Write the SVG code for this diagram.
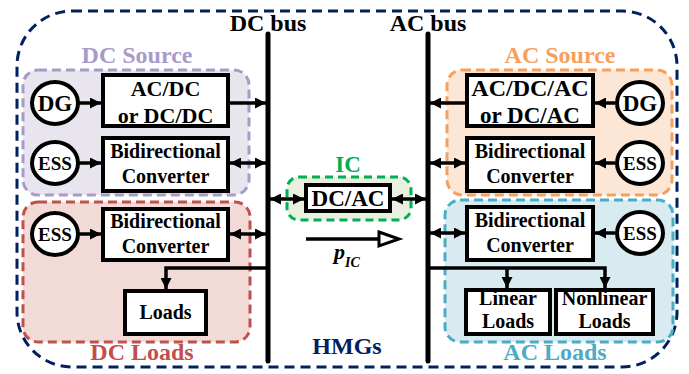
<svg xmlns="http://www.w3.org/2000/svg" width="689" height="374" viewBox="0 0 689 374">
<style>
text{font-family:"Liberation Serif","Times New Roman",serif;font-weight:bold;text-anchor:middle;fill:#000}
.box{fill:#fff;stroke:#000;stroke-width:4}
.circ{fill:#fff;stroke:#000;stroke-width:4}
.grp{stroke-width:3;stroke-dasharray:9 5}
.bus{stroke:#000;stroke-width:5;stroke-linecap:round;fill:none}
.c{stroke:#000;stroke-width:3.5;fill:none}
.t22{font-size:22px}
.t20{font-size:20px}
.t23{font-size:23px}
.t24{font-size:24px}
</style>
<defs>
<marker id="ah" viewBox="0 0 10 10" refX="10" refY="5" markerWidth="11" markerHeight="11" markerUnits="userSpaceOnUse" orient="auto-start-reverse">
<path d="M0,0 L10,5 L0,10 z" fill="#000"/>
</marker>
</defs>

<g id="hmgs">
<rect x="17" y="11" width="660" height="356" rx="55" fill="#fff" stroke="#002060" stroke-width="3" stroke-dasharray="10 6"/>
<text class="t24" x="347" y="354" style="fill:#002060">HMGs</text>
</g>

<g id="dc-source">
<rect class="grp" x="23" y="70" width="226" height="125" rx="15" fill="#E9E5EF" stroke="#A89BC8"/>
<text class="t24" x="137" y="63" style="fill:#A89BC8">DC Source</text>
</g>
<g id="dc-loads">
<rect class="grp" x="23" y="202" width="227" height="140" rx="15" fill="#F2DAD6" stroke="#C0504D"/>
<text class="t24" x="142" y="360" style="fill:#C0504D">DC Loads</text>
</g>
<g id="ac-source">
<rect class="grp" x="447" y="70" width="225" height="125" rx="15" fill="#FCE6D6" stroke="#F7A05C"/>
<text class="t24" x="560" y="63" style="fill:#F7A05C">AC Source</text>
</g>
<g id="ac-loads">
<rect class="grp" x="445" y="200" width="228" height="142" rx="15" fill="#D8EBF1" stroke="#4BACC6"/>
<text class="t24" x="555" y="360" style="fill:#4BACC6">AC Loads</text>
</g>
<g id="ic">
<rect x="287" y="177" width="124" height="43" rx="12" fill="#EAF0E0" stroke="#00B050" stroke-width="3" stroke-dasharray="8 5"/>
<text class="t23" x="348" y="172" style="fill:#00B050">IC</text>
</g>

<g id="dc-bus">
<line class="bus" x1="268" y1="34" x2="268" y2="361"/>
<text class="t24" x="268" y="31">DC bus</text>
</g>
<g id="ac-bus">
<line class="bus" x1="428" y1="34" x2="428" y2="361"/>
<text class="t24" x="428" y="31">AC bus</text>
</g>

<g id="connectors">
<line class="c" x1="79" y1="103" x2="101" y2="103" marker-end="url(#ah)"/>
<line class="c" x1="230" y1="103" x2="266" y2="103" marker-end="url(#ah)"/>
<line class="c" x1="79" y1="163" x2="101" y2="163" marker-end="url(#ah)"/>
<line class="c" x1="230" y1="163" x2="266" y2="163" marker-start="url(#ah)" marker-end="url(#ah)"/>
<line class="c" x1="79" y1="234" x2="101" y2="234" marker-end="url(#ah)"/>
<line class="c" x1="230" y1="234" x2="266" y2="234" marker-start="url(#ah)" marker-end="url(#ah)"/>
<path class="c" d="M268,268 H166 V289" marker-end="url(#ah)"/>
<line class="c" x1="270" y1="199" x2="304" y2="199" marker-start="url(#ah)" marker-end="url(#ah)"/>
<line class="c" x1="392" y1="199" x2="426" y2="199" marker-start="url(#ah)" marker-end="url(#ah)"/>
<line class="c" x1="465" y1="103" x2="430" y2="103" marker-end="url(#ah)"/>
<line class="c" x1="615" y1="103" x2="595" y2="103" marker-end="url(#ah)"/>
<line class="c" x1="430" y1="163" x2="465" y2="163" marker-start="url(#ah)" marker-end="url(#ah)"/>
<line class="c" x1="615" y1="163" x2="595" y2="163" marker-end="url(#ah)"/>
<line class="c" x1="430" y1="233" x2="465" y2="233" marker-start="url(#ah)" marker-end="url(#ah)"/>
<line class="c" x1="615" y1="233" x2="595" y2="233" marker-end="url(#ah)"/>
<path class="c" d="M428,268 H605 V288" marker-end="url(#ah)"/>
<path class="c" d="M507,268 V288" marker-end="url(#ah)"/>
<line class="c" x1="306" y1="239" x2="380" y2="239"/>
<polygon points="379,232 399,239 379,246" fill="#fff" stroke="#000" stroke-width="3" stroke-linejoin="miter"/>
<text x="347" y="259" style="font-size:22px;font-style:italic">p<tspan dy="8" style="font-size:14px">IC</tspan></text>
</g>

<g id="dc-dg">
<ellipse class="circ" cx="55" cy="103" rx="23" ry="21"/>
<text class="t23" x="55" y="111">DG</text>
</g>
<g id="dc-acdc">
<rect class="box" x="103" y="75" width="125" height="51"/>
<text class="t22" x="165.5" y="96">AC/DC</text>
<text class="t22" x="165.5" y="123">or DC/DC</text>
</g>
<g id="dc-ess1">
<ellipse class="circ" cx="55" cy="163" rx="23" ry="21"/>
<text x="55" y="170" style="font-size:19px">ESS</text>
</g>
<g id="dc-bidir1">
<rect class="box" x="103" y="138" width="125" height="53"/>
<text class="t20" x="165.5" y="158">Bidirectional</text>
<text class="t20" x="165.5" y="183">Converter</text>
</g>
<g id="dc-ess2">
<ellipse class="circ" cx="55" cy="234" rx="23" ry="21"/>
<text x="55" y="241" style="font-size:19px">ESS</text>
</g>
<g id="dc-bidir2">
<rect class="box" x="103" y="209" width="125" height="51"/>
<text class="t20" x="165.5" y="228">Bidirectional</text>
<text class="t20" x="165.5" y="253">Converter</text>
</g>
<g id="dc-loads-box">
<rect class="box" x="125" y="291" width="81" height="43"/>
<text class="t20" x="165.5" y="319">Loads</text>
</g>
<g id="ic-dcac">
<rect class="box" x="306" y="185" width="84" height="26"/>
<text class="t23" x="348" y="206">DC/AC</text>
</g>
<g id="ac-dg">
<ellipse class="circ" cx="640" cy="103" rx="23" ry="21"/>
<text class="t23" x="640" y="111">DG</text>
</g>
<g id="ac-acdcac">
<rect class="box" x="467" y="75" width="126" height="51"/>
<text x="530" y="96" style="font-size:24px">AC/DC/AC</text>
<text x="530" y="123" style="font-size:23px">or DC/AC</text>
</g>
<g id="ac-ess1">
<ellipse class="circ" cx="640" cy="163" rx="23" ry="21"/>
<text x="640" y="170" style="font-size:19px">ESS</text>
</g>
<g id="ac-bidir1">
<rect class="box" x="467" y="138" width="126" height="53"/>
<text class="t20" x="530" y="158">Bidirectional</text>
<text class="t20" x="530" y="183">Converter</text>
</g>
<g id="ac-ess2">
<ellipse class="circ" cx="640" cy="233" rx="23" ry="21"/>
<text x="640" y="240" style="font-size:19px">ESS</text>
</g>
<g id="ac-bidir2">
<rect class="box" x="467" y="207" width="126" height="53"/>
<text class="t20" x="530" y="227">Bidirectional</text>
<text class="t20" x="530" y="252">Converter</text>
</g>
<g id="linear-loads">
<rect class="box" x="466" y="290" width="84" height="44"/>
<text class="t20" x="508" y="305">Linear</text>
<text class="t20" x="508" y="328">Loads</text>
</g>
<g id="nonlinear-loads">
<rect class="box" x="556" y="290" width="97" height="44"/>
<text class="t20" x="604.5" y="305">Nonlinear</text>
<text class="t20" x="604.5" y="328">Loads</text>
</g>
</svg>
